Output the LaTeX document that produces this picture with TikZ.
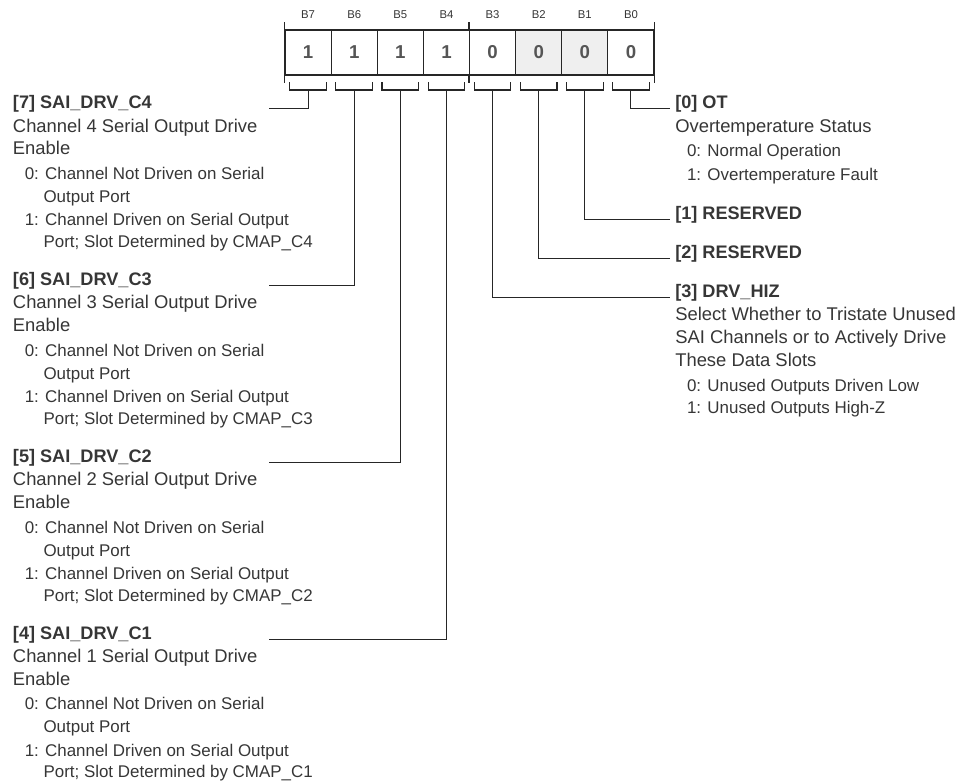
\documentclass[tikz,border=0pt]{standalone}
\usepackage{fontspec}
\setmainfont{Liberation Sans}
\definecolor{tc}{HTML}{363636}
\definecolor{lc}{HTML}{262626}
\definecolor{vc}{HTML}{555555}
\definecolor{gc}{HTML}{EFEFEF}
\begin{document}
\begin{tikzpicture}[x=0.75pt,y=-0.75pt,
 txt/.style={anchor=base west,inner sep=0pt,text=tc,font=\fontsize{13.8}{16}\selectfont},
 itm/.style={txt,font=\fontsize{12.7}{15}\selectfont},
 ttl/.style={txt,font=\fontsize{13.6}{16}\selectfont\bfseries},
 bitcell/.style={draw=lc,line width=0.8pt,minimum width=34.59pt,minimum height=33.75pt,inner sep=0pt,text=vc,font=\fontsize{14}{16}\selectfont\bfseries},
 bitlbl/.style={inner sep=0pt,text=tc,font=\fontsize{8.5}{10}\selectfont},
 wire/.style={draw=lc,line width=0.8pt}]
\useasboundingbox (0,0) rectangle (962,782);

% register cells
\foreach \b/\v/\f [count=\i from 0] in {7/1/white,6/1/white,5/1/white,4/1/white,3/0/white,2/0/gc,1/0/gc,0/0/white}{
  \pgfmathsetmacro\cx{285+46.125*(\i+0.5)}
  \node[bitcell,fill=\f] (c\b) at (\cx,52.5) {\v};
  \node[bitlbl] (l\b) at (\cx,15) {B\b};
  \draw[wire] (\cx-18.3,82) -- (\cx-18.3,90) -- (\cx+18.3,90) -- (\cx+18.3,82);
  \coordinate (k\b) at (\cx,90);
}
% ticks
\draw[wire] (c7.north west) -- ++(0,-7);
\draw[wire] (c3.north west) -- ++(0,-7);
\draw[wire] (c0.north east) -- ++(0,-7);
\draw[wire] (c7.south west) -- ++(0,7);
\draw[wire] (c3.south west) -- ++(0,7);
\draw[wire] (c0.south east) -- ++(0,7);

% left blocks
\foreach \b/\ch/\T in {7/4/108.8,6/3/285.5,5/2/462.5,4/1/639.2}{
  \node[ttl] (t\b) at (12.7,\T) {[\b] SAI\_DRV\_C\ch};
  \node[txt] (d\b a) at (12.7,\T+23.4) {Channel \ch\ Serial Output Drive};
  \node[txt] (d\b b) at (12.7,\T+46) {Enable};
  \node[itm] (z\b a) at (24.5,\T+70.5) {0: Channel Not Driven on Serial};
  \node[itm] (z\b b) at (43.3,\T+93.5) {Output Port};
  \node[itm] (o\b a) at (24.5,\T+117) {1: Channel Driven on Serial Output};
  \node[itm] (o\b b) at (43.3,\T+138.5) {Port; Slot Determined by CMAP\_C\ch};
  \coordinate (e\b) at (269,\T);
  \draw[wire] (k\b) |- (e\b);
}

% right blocks
\node[ttl] (t0) at (675,108.5) {[0] OT};
\node[txt] (d0) at (675,132.2) {Overtemperature Status};
\node[itm] (z0) at (686.8,156.5) {0: Normal Operation};
\node[itm] (o0) at (686.8,180) {1: Overtemperature Fault};
\node[ttl] (t1) at (675,219.5) {[1] RESERVED};
\node[ttl] (t2) at (675,258.3) {[2] RESERVED};
\node[ttl] (t3) at (675,297.3) {[3] DRV\_HIZ};
\node[txt] (d3a) at (675,320.8) {Select Whether to Tristate Unused};
\node[txt] (d3b) at (675,343.5) {SAI Channels or to Actively Drive};
\node[txt] (d3c) at (675,366) {These Data Slots};
\node[itm] (z3) at (686.8,391) {0: Unused Outputs Driven Low};
\node[itm] (o3) at (686.8,413.5) {1: Unused Outputs High-Z};

\foreach \b in {0,1,2,3}{
  \draw[wire] (k\b) |- ([xshift=-3.75pt]t\b.base west);
}
\end{tikzpicture}
\end{document}
